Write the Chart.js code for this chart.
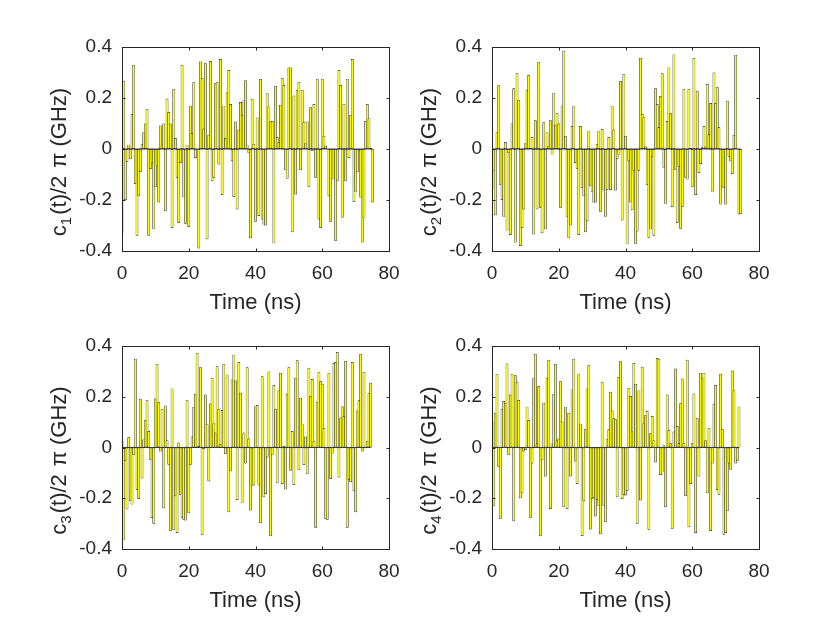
<!DOCTYPE html>
<html>
<head>
<meta charset="utf-8">
<script src="https://cdn.jsdelivr.net/npm/chart.js@4.4.1/dist/chart.umd.min.js"></script>
<style>
  html, body { margin: 0; padding: 0; background: #fff; }
  #fig { position: relative; width: 840px; height: 630px; overflow: hidden; }
  #fig canvas { position: absolute; left: 0; top: 0; }
</style>
</head>
<body>
<div id="fig">
  <canvas id="c1" width="840" height="630"></canvas>
  <canvas id="c2" width="840" height="630"></canvas>
  <canvas id="c3" width="840" height="630"></canvas>
  <canvas id="c4" width="840" height="630"></canvas>
</div>
<script>
// sample spacing (ns) and axis ticks
var timeStep = 0.5;
var xTicks = [0, 20, 40, 60, 80];
var yTicks = [-0.4, -0.2, 0, 0.2, 0.4];

// control amplitudes c_k(t)/2pi in GHz
var c1Values = [
  -0.33, 0.267, -0.20, -0.05, 0.017, -0.04, 0.137, 0.33, -0.137, -0.34,
  -0.185, -0.09, 0.02, 0.066, 0.10, 0.156, -0.34, -0.078, -0.057, -0.315,
  -0.15, -0.068, -0.21, 0.092, 0.017, 0.10, -0.244, 0.197, 0.145, 0.10,
  -0.31, 0.236, 0.043, -0.113, -0.29, -0.055, 0.33, -0.19, -0.293, 0.017,
  -0.306, 0.17, 0.063, 0.262, -0.035, 0.0, -0.39, 0.343, 0.277, 0.08,
  0.336, -0.354, 0.056, 0.345, -0.126, -0.113, 0.258, 0.262, -0.061, 0.353,
  -0.18, 0.17, 0.043, 0.223, 0.31, 0.176, -0.048, -0.188, 0.108, -0.237,
  0.076, 0.184, 0.134,
  0.19, 0.27, 0.017, -0.016, -0.35, 0.197, 0.02, -0.285, 0.124, -0.263,
  0.275, -0.276, -0.296, -0.30, 0.219, 0.167, 0.108, 0.11, -0.37, 0.248,
  0.047, 0.026, 0.173, 0.277, 0.251, -0.083, -0.117, 0.32, 0.32, -0.326,
  0.21, -0.178, 0.23, 0.262, -0.083, 0.232, 0.105, 0.023, 0.108, -0.148,
  0.164, -0.007, 0.176, -0.113, 0.275, -0.276, -0.31, 0.275, 0.052, 0.013,
  0.0, -0.185, -0.285, -0.116, -0.12, -0.36, -0.126, 0.31, 0.251, -0.27,
  0.177, -0.126, 0.275, -0.035, 0.134, 0.353, -0.208, -0.168, -0.091, -0.006,
  -0.19, -0.367, -0.272, 0.11, 0.176, 0.12, 0.004, -0.21
];
var c2Values = [
  -0.16, -0.087, -0.26, 0.066, 0.25, -0.14, -0.20, -0.266, 0.027, -0.32,
  -0.016, -0.337, 0.10, 0.238, -0.367, 0.297, 0.193, -0.38, -0.31, -0.237,
  0.023, 0.232, 0.29, 0.004, 0.047, -0.335, 0.113, -0.237, 0.34, -0.23,
  -0.33, 0.105, -0.315, 0.066, 0.013, 0.113, -0.022, 0.22, 0.095, 0.14,
  0.10, -0.23, 0.17, 0.385, 0.052, -0.266, -0.35, -0.30, 0.09, 0.17,
  -0.055, -0.077, -0.337, 0.09, -0.152, -0.185, -0.326, -0.283, 0.072, -0.146,
  -0.168, -0.21, -0.21, 0.02, 0.072, -0.246, 0.078, -0.163, -0.266, -0.16,
  0.047, -0.161, 0.17, 0.076, -0.163, -0.04, -0.022, 0.267, -0.28,
  0.293, 0.052, -0.374, -0.048, -0.21, -0.24, -0.085, -0.374, -0.324, -0.085,
  0.358, 0.137, 0.125, 0.01, -0.14, -0.348, -0.315, -0.03, -0.34, 0.238,
  0.176, 0.086, 0.208, 0.297, -0.074, -0.215, 0.11, 0.32, 0.14, -0.227,
  0.371, -0.083, -0.29, -0.07, -0.313, -0.227, 0.236, -0.113, -0.12, 0.236,
  0.004, -0.15, 0.356, -0.18, 0.228, -0.094, -0.059, 0.007, 0.09, 0.01,
  0.255, 0.058, 0.18, -0.168, 0.30, 0.18, 0.242, 0.086, -0.218, -0.15,
  -0.152, -0.218, 0.189, -0.03, -0.048, -0.098, 0.056, 0.369, 0.0, -0.257,
  -0.254
];
var c3Values = [
  0.026, -0.366, -0.052, -0.244, 0.04, -0.212, -0.225, -0.03, 0.35, -0.167,
  -0.203, 0.192, -0.122, 0.033, 0.107, 0.186, 0.065, -0.048, -0.278, -0.30,
  0.193, 0.33, 0.18, -0.016, 0.153, -0.239, 0.166, 0.029, -0.068, -0.33,
  0.233, -0.324, -0.192, -0.337, 0.02, -0.186, -0.277, -0.285, -0.288, 0.186,
  -0.259, -0.068, 0.043, 0.16, 0.212, 0.373, 0.007, 0.316, -0.344, -0.007,
  0.209, 0.092, -0.133, 0.173, 0.275, 0.098, 0.059, 0.32, 0.153, 0.013,
  0.148, 0.33, -0.026, 0.288, -0.255, -0.094, 0.268, 0.366, 0.264, -0.207,
  0.337, 0.216, -0.22, 0.059, -0.063, 0.316, 0.035, -0.248,
  -0.15, -0.15, 0.163, 0.167, -0.15, -0.298, 0.281, -0.196, -0.183, -0.039,
  0.30, -0.35, -0.03, 0.246, 0.153, -0.141, 0.226, 0.294, -0.144, 0.007,
  -0.166, 0.212, 0.316, -0.092, 0.065, -0.148, 0.275, 0.344, -0.089, 0.196,
  0.094, -0.069, 0.043, -0.105, 0.314, 0.203, 0.27, 0.026, -0.316, 0.18,
  0.298, 0.261, 0.251, 0.076, -0.281, -0.285, 0.294, -0.124, -0.024, 0.333,
  0.337, 0.376, -0.118, 0.118, 0.163, 0.124, 0.342, -0.316, -0.128, -0.137,
  0.337, -0.17, -0.255, 0.146, 0.186, 0.369, -0.016, 0.298, -0.003, 0.026,
  0.216, 0.255
];
var c4Values = [
  0.105, -0.231, 0.137, 0.29, -0.076, -0.281, 0.153, 0.183, 0.176, 0.331,
  -0.03, 0.209, 0.29, -0.29, 0.285, 0.259, 0.187, -0.2, -0.18, -0.016,
  -0.01, 0.161, 0.108, -0.277, -0.063, 0.275, 0.369, 0.016, 0.242, -0.35,
  -0.05, 0.176, -0.114, 0.275, 0.346, -0.242, 0.016, 0.212, 0.33, 0.03,
  0.035, 0.261, 0.102, -0.235, 0.161, -0.242, 0.137, -0.114, 0.229, 0.35,
  -0.055, -0.144, 0.291, 0.094, -0.349, -0.212, 0.072, 0.233, 0.324, -0.323,
  -0.203, -0.199, -0.272, -0.207, -0.231, -0.342, 0.259, -0.231, -0.294, 0.033,
  0.072, 0.22, 0.146, 0.115, 0.111, -0.196, 0.278, 0.34,
  -0.203, -0.187, -0.189, -0.17, 0.235, 0.203, 0.063, 0.333, 0.251, -0.30,
  0.225, -0.209, 0.318, 0.095, 0.127, 0.144, -0.324, 0.056, 0.124, 0.029,
  -0.059, 0.353, 0.35, -0.108, -0.098, 0.009, -0.235, 0.209, 0.068, 0.017,
  -0.32, 0.063, 0.311, 0.085, 0.017, 0.174, 0.272, 0.017, -0.192, 0.346,
  -0.314, -0.144, 0.017, 0.213, -0.337, 0.115, -0.114, 0.294, 0.275, 0.294,
  0.029, -0.18, 0.078, -0.329, -0.063, 0.17, 0.246, -0.167, -0.186, 0.29,
  0.072, -0.344, -0.337, -0.251, -0.063, -0.088, 0.303, 0.226, -0.063, -0.052,
  0.161
];

var FONT = '"Liberation Sans", Arial, Helvetica, sans-serif';
var TICK_PX = 19;
var LABEL_PX = 22;
var SUB_PX = 15;
var INK = '#262626';

// MATLAB-like box with inward ticks and a subscripted y label
var matlabAxes = {
  id: 'matlabAxes',
  afterDraw: function (chart, args, opts) {
    var ctx = chart.ctx, a = chart.chartArea;
    var xs = chart.scales.x, ys = chart.scales.y;
    var L = Math.round(a.left) + 0.5, R = Math.round(a.right) + 0.5;
    var T = Math.round(a.top) + 0.5, B = Math.round(a.bottom) + 0.5;
    var tl = 3;
    ctx.save();
    ctx.strokeStyle = INK;
    ctx.lineWidth = 1;
    ctx.strokeRect(L, T, R - L, B - T);
    ctx.beginPath();
    xs.ticks.forEach(function (t) {
      var px = Math.round(xs.getPixelForValue(t.value)) + 0.5;
      ctx.moveTo(px, B); ctx.lineTo(px, B - tl);
      ctx.moveTo(px, T); ctx.lineTo(px, T + tl);
    });
    ys.ticks.forEach(function (t) {
      var py = Math.round(ys.getPixelForValue(t.value)) + 0.5;
      ctx.moveTo(L, py); ctx.lineTo(L + tl, py);
      ctx.moveTo(R, py); ctx.lineTo(R - tl, py);
    });
    ctx.stroke();

    // y label: c_k(t)/2 π (GHz), TeX-like spacing around the subscript and π
    var segs = [
      { text: 'c', size: LABEL_PX, dy: 0, gap: 0 },
      { text: opts.sub, size: SUB_PX, dy: 5, gap: 2 },
      { text: '(t)/2', size: LABEL_PX, dy: 0, gap: 8 },
      { text: 'π', size: LABEL_PX, dy: 0, gap: 6 },
      { text: '(GHz)', size: LABEL_PX, dy: 0, gap: 0 }
    ];
    var total = 0;
    segs.forEach(function (s) {
      ctx.font = s.size + 'px ' + FONT;
      s.w = ctx.measureText(s.text).width;
      total += s.w + s.gap;
    });
    ctx.fillStyle = INK;
    ctx.textBaseline = 'alphabetic';
    ctx.textAlign = 'left';
    ctx.translate(a.left - 56, (a.top + a.bottom) / 2 + 13);
    ctx.rotate(-Math.PI / 2);
    var x = -total / 2;
    segs.forEach(function (s) {
      ctx.font = s.size + 'px ' + FONT;
      ctx.fillText(s.text, x, s.dy);
      x += s.w + s.gap;
    });
    ctx.restore();
  }
};

function makeChart(id, values, box, sub) {
  var bars = values.map(function (v, i) { return { x: i * timeStep, y: v }; });
  var lastT = (values.length - 1) * timeStep;
  var xHeight = 52.4 + LABEL_PX * 0.6;
  return new Chart(document.getElementById(id), {
    type: 'bar',
    data: {
      datasets: [
        {
          type: 'line',
          data: [{ x: 0, y: 0 }, { x: lastT, y: 0 }],
          borderColor: '#3a3a3a',
          borderWidth: 1,
          pointRadius: 0,
          order: 0
        },
        {
          data: bars,
          backgroundColor: '#ffff00',
          borderColor: '#1e1e1e',
          borderWidth: 0.7,
          borderSkipped: false,
          barPercentage: 1.7,
          categoryPercentage: 1,
          order: 1
        }
      ]
    },
    options: {
      responsive: false,
      animation: false,
      events: [],
      layout: { padding: { left: 0, top: box.t, right: 840 - box.r, bottom: 630 - box.b - xHeight } },
      plugins: {
        legend: { display: false },
        tooltip: { enabled: false },
        matlabAxes: { sub: sub }
      },
      scales: {
        x: {
          type: 'linear',
          min: 0,
          max: 80,
          offset: false,
          grid: { display: false, drawTicks: false, tickLength: 0 },
          border: { display: false },
          afterBuildTicks: function (s) { s.ticks = xTicks.map(function (v) { return { value: v }; }); },
          afterFit: function (s) { s.height = xHeight; },
          ticks: { font: { family: FONT, size: TICK_PX }, color: INK, padding: 11, maxRotation: 0, autoSkip: false },
          title: { display: true, text: 'Time (ns)', font: { family: FONT, size: LABEL_PX }, color: INK, padding: 0 }
        },
        y: {
          type: 'linear',
          min: -0.4,
          max: 0.4,
          grid: { display: false, drawTicks: false, tickLength: 0 },
          border: { display: false },
          afterBuildTicks: function (s) { s.ticks = yTicks.map(function (v) { return { value: v }; }); },
          afterFit: function (s) { s.width = box.l; },
          ticks: {
            font: { family: FONT, size: TICK_PX },
            color: INK,
            padding: 10,
            callback: function (v) { return String(+v.toFixed(1)); }
          }
        }
      }
    },
    plugins: [matlabAxes]
  });
}

makeChart('c1', c1Values, { l: 122, t: 47, r: 389, b: 251 }, '1');
makeChart('c2', c2Values, { l: 492, t: 47, r: 759, b: 251 }, '2');
makeChart('c3', c3Values, { l: 122, t: 346, r: 389, b: 549 }, '3');
makeChart('c4', c4Values, { l: 492, t: 346, r: 759, b: 549 }, '4');
</script>
</body>
</html>
